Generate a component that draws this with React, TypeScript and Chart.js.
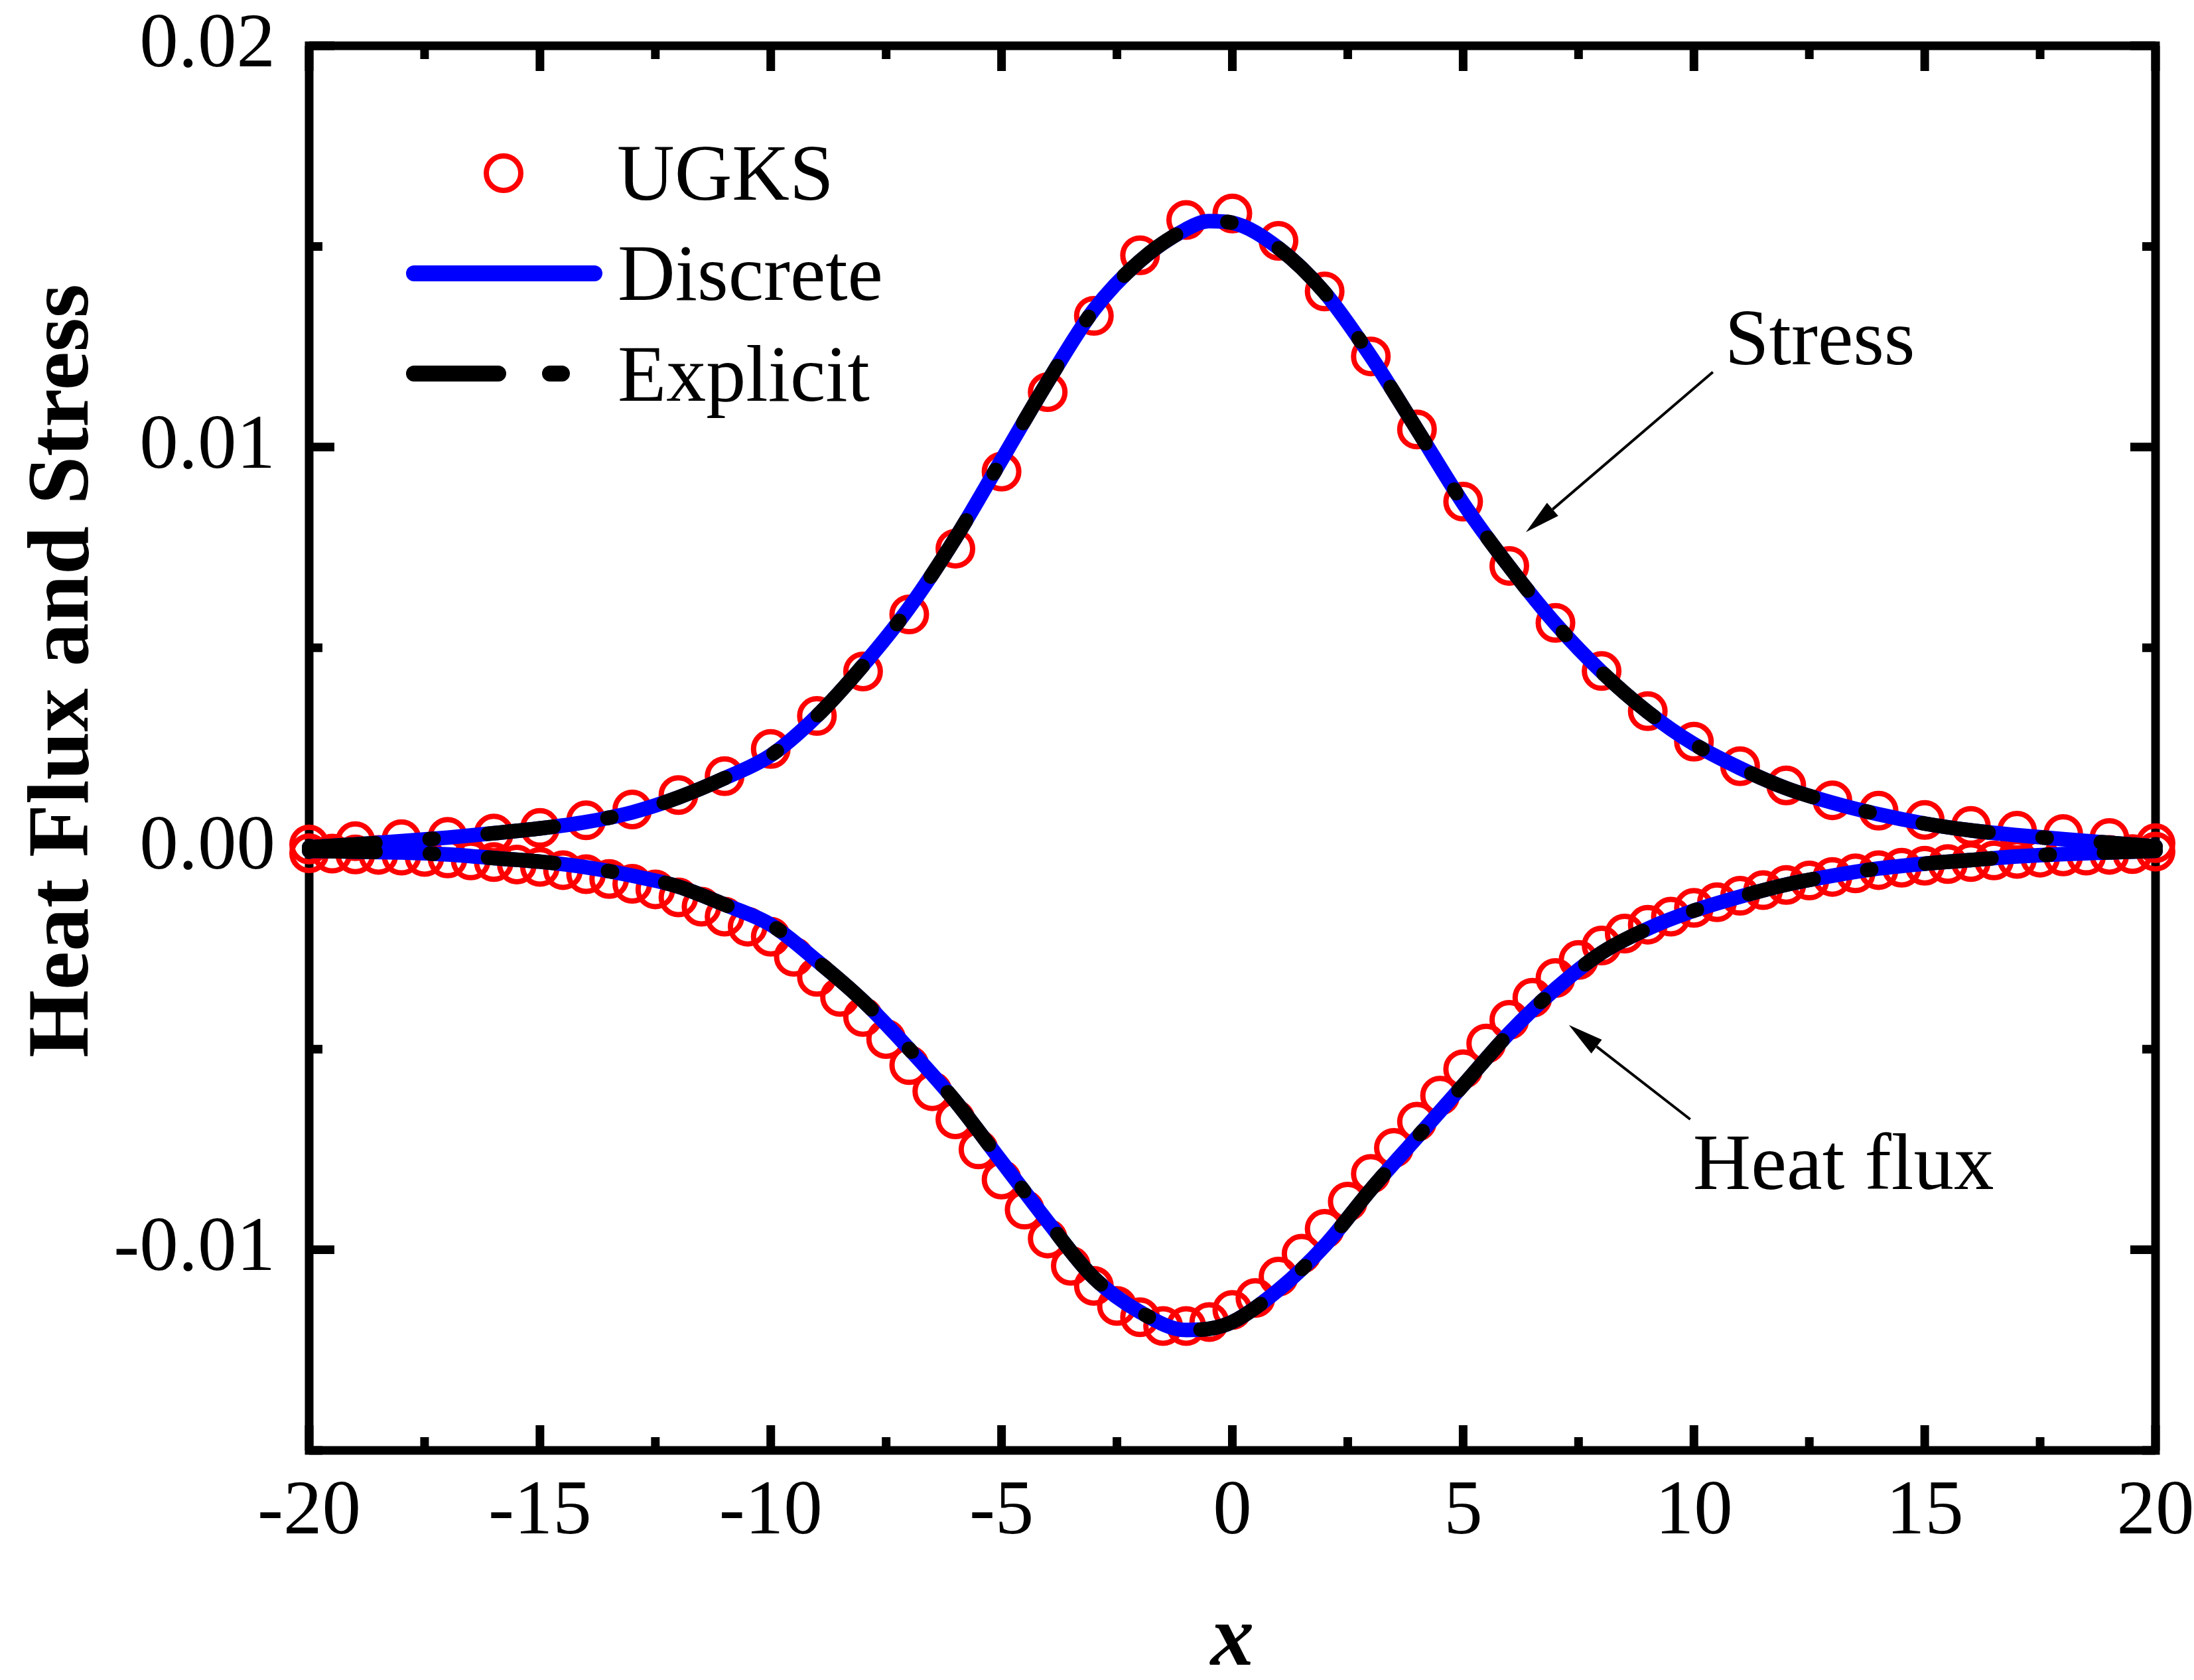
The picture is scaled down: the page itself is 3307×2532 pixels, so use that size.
import { useEffect, useRef } from "react";
import { Chart, registerables } from "chart.js";

Chart.register(...registerables);

const FONT = '"Liberation Serif", "Times New Roman", serif';

// UGKS stress samples (every 1)
const stressX = [
  -20, -19, -18, -17, -16, -15, -14, -13, -12, -11, -10, -9, -8, -7, -6, -5, -4, -3, -2, -1, 0,
  1, 2, 3, 4, 5, 6, 7, 8, 9, 10, 11, 12, 13, 14, 15, 16, 17, 18, 19, 20,
];
const stressUGKS = [
  0.0001, 0.00018, 0.00023, 0.00029, 0.00037, 0.00051, 0.0007, 0.00097, 0.00133, 0.0018, 0.00248,
  0.0033, 0.00441, 0.00583, 0.00747, 0.00939, 0.01137, 0.01327, 0.01478, 0.01566, 0.01582,
  0.01514, 0.01388, 0.01226, 0.01044, 0.00864, 0.00704, 0.00562, 0.00442, 0.00342, 0.00266,
  0.00205, 0.00157, 0.0012, 0.00094, 0.00071, 0.00056, 0.00044, 0.00036, 0.00026, 0.00013,
];

// UGKS heat flux samples (every 0.5)
const heatX = [
  -20, -19.5, -19, -18.5, -18, -17.5, -17, -16.5, -16, -15.5, -15, -14.5, -14, -13.5, -13, -12.5,
  -12, -11.5, -11, -10.5, -10, -9.5, -9, -8.5, -8, -7.5, -7, -6.5, -6, -5.5, -5, -4.5, -4, -3.5,
  -3, -2.5, -2, -1.5, -1, -0.5, 0, 0.5, 1, 1.5, 2, 2.5, 3, 3.5, 4, 4.5, 5, 5.5, 6, 6.5, 7, 7.5, 8,
  8.5, 9, 9.5, 10, 10.5, 11, 11.5, 12, 12.5, 13, 13.5, 14, 14.5, 15, 15.5, 16, 16.5, 17, 17.5, 18,
  18.5, 19, 19.5, 20,
];
const heatUGKS = [
  -0.00012, -0.00013, -0.00015, -0.00016, -0.00018, -0.00021, -0.00025, -0.0003, -0.00034, -0.0004,
  -0.00046, -0.00054, -0.00064, -0.00076, -0.00088, -0.00102, -0.00122, -0.00145, -0.0017, -0.00195,
  -0.0022, -0.0027, -0.0032, -0.0037, -0.0042, -0.00475, -0.0054, -0.00605, -0.00675, -0.0075,
  -0.00825, -0.009, -0.00972, -0.0104, -0.0109, -0.0114, -0.01168, -0.0119, -0.0119, -0.0118,
  -0.0115, -0.0112, -0.01067, -0.0101, -0.00948, -0.0088, -0.00811, -0.00746, -0.00681, -0.00616,
  -0.0055, -0.00486, -0.00427, -0.00372, -0.00323, -0.00278, -0.00242, -0.00212, -0.0019, -0.0017,
  -0.00148, -0.00134, -0.00118, -0.00104, -0.00091, -0.0008, -0.00071, -0.00062, -0.00054, -0.00048,
  -0.00043, -0.00039, -0.00034, -0.0003, -0.00026, -0.00023, -0.0002, -0.00018, -0.00016, -0.00014,
  -0.00008,
];

// continuous curves (Discrete and Explicit overlap in the picture)
const lineX = [
  -20, -19, -18, -17, -16, -15, -14, -13, -12, -11, -10, -9, -8, -7, -6, -5, -4, -3, -2, -1, -0.5,
  0, 1, 2, 3, 4, 5, 6, 7, 8, 9, 10, 11, 12, 13, 14, 15, 16, 17, 18, 19, 20,
];
const stressDiscrete = [
  0.00003, 0.0001, 0.00018, 0.00027, 0.00038, 0.0005, 0.00066, 0.0009, 0.00127, 0.00175, 0.00232,
  0.0033, 0.00456, 0.006, 0.00773, 0.00968, 0.01163, 0.01342, 0.01464, 0.01543, 0.01563, 0.01559,
  0.01496, 0.01385, 0.01226, 0.01044, 0.0086, 0.00702, 0.0056, 0.0044, 0.0034, 0.0026, 0.002,
  0.0015, 0.00114, 0.00085, 0.00062, 0.00045, 0.00033, 0.00023, 0.00014, 0.00005,
];
const heatDiscrete = [
  -0.00006, -0.00008, -0.0001, -0.00015, -0.00024, -0.00033, -0.00047, -0.00068, -0.00095, -0.0014,
  -0.0019, -0.0028, -0.0038, -0.005, -0.0063, -0.0078, -0.0093, -0.0107, -0.01155, -0.012, -0.01197,
  -0.0118, -0.011, -0.0099, -0.0085, -0.0072, -0.0059, -0.0046, -0.0035, -0.0026, -0.002, -0.00155,
  -0.0012, -0.0009, -0.00068, -0.0005, -0.00038, -0.00029, -0.0002, -0.00014, -0.0001, -0.00006,
];
const stressExplicit = stressDiscrete;
const heatExplicit = heatDiscrete;

const legendLabels = ["UGKS", "Discrete", "Explicit"];

const ink = "#000000";
const blue = "#0000ff";
const red = "#ff0000";
const explicitDash = [100, 82, 6, 82];

const pairs = (xs: number[], ys: number[]) => xs.map((x, i) => ({ x, y: ys[i] }));
const isMultiple = (v: number, step: number) => Math.abs(v / step - Math.round(v / step)) < 1e-6;

const curve = (data: any, color: string, dash: number[]) => ({
  data,
  borderColor: color,
  borderWidth: 22,
  borderDash: dash,
  borderCapStyle: "round",
  borderJoinStyle: "round",
  pointRadius: 0,
  cubicInterpolationMode: "monotone",
  fill: false,
  clip: false,
});

const markers = (data: any) => ({
  data,
  showLine: false,
  pointStyle: "circle",
  pointRadius: 26,
  pointBorderWidth: 8,
  pointBorderColor: red,
  pointBackgroundColor: "rgba(0,0,0,0)",
  clip: false,
});

// inward ticks on all four sides plus the box
const framePlugin = {
  id: "frame",
  beforeDatasetsDraw(chart: any) {
    const { ctx, chartArea: a, scales } = chart;
    ctx.save();
    ctx.strokeStyle = ink;
    ctx.lineWidth = 13;
    ctx.lineCap = "butt";
    ctx.beginPath();
    for (const t of scales.x.ticks) {
      const px = scales.x.getPixelForValue(t.value);
      const len = isMultiple(t.value, 5) ? 38 : 20;
      ctx.moveTo(px, a.bottom);
      ctx.lineTo(px, a.bottom - len);
      ctx.moveTo(px, a.top);
      ctx.lineTo(px, a.top + len);
    }
    for (const t of scales.y.ticks) {
      const py = scales.y.getPixelForValue(t.value);
      const len = isMultiple(t.value, 0.01) ? 38 : 20;
      ctx.moveTo(a.left, py);
      ctx.lineTo(a.left + len, py);
      ctx.moveTo(a.right, py);
      ctx.lineTo(a.right - len, py);
    }
    ctx.stroke();
    ctx.lineJoin = "miter";
    ctx.strokeRect(a.left, a.top, a.right - a.left, a.bottom - a.top);
    ctx.restore();
  },
};

const notes = [
  { text: "Stress", size: 120, at: [10.67, 0.01206], from: [10.41, 0.01187], to: [6.36, 0.00788] },
  { text: "Heat flux", size: 121, at: [9.98, -0.00849], from: [9.92, -0.00675], to: [7.29, -0.0044] },
];

const overlayPlugin = {
  id: "overlay",
  afterDraw(chart: any) {
    const { ctx, chartArea: a, scales } = chart;
    const sx = (v: number) => scales.x.getPixelForValue(v);
    const sy = (v: number) => scales.y.getPixelForValue(v);
    ctx.save();

    // legend
    const L = a.left;
    const T = a.top;
    ctx.lineCap = "round";
    ctx.strokeStyle = red;
    ctx.lineWidth = 8;
    ctx.beginPath();
    ctx.arc(L + 293, T + 192, 26, 0, Math.PI * 2);
    ctx.stroke();
    ctx.strokeStyle = blue;
    ctx.lineWidth = 24;
    ctx.beginPath();
    ctx.moveTo(L + 158, T + 343);
    ctx.lineTo(L + 430, T + 343);
    ctx.stroke();
    ctx.strokeStyle = ink;
    ctx.beginPath();
    ctx.moveTo(L + 158, T + 494);
    ctx.lineTo(L + 285, T + 494);
    ctx.moveTo(L + 363, T + 494);
    ctx.lineTo(L + 381, T + 494);
    ctx.stroke();
    ctx.fillStyle = ink;
    ctx.font = `120px ${FONT}`;
    ctx.textAlign = "left";
    ctx.textBaseline = "alphabetic";
    ctx.fillText(legendLabels[0], L + 464, T + 232);
    ctx.fillText(legendLabels[1], L + 465, T + 383);
    ctx.fillText(legendLabels[2], L + 465, T + 535);

    // annotations with arrows
    for (const n of notes) {
      ctx.font = `${n.size}px ${FONT}`;
      ctx.fillText(n.text, sx(n.at[0]), sy(n.at[1]));
      const x1 = sx(n.from[0]);
      const y1 = sy(n.from[1]);
      const x2 = sx(n.to[0]);
      const y2 = sy(n.to[1]);
      const ang = Math.atan2(y2 - y1, x2 - x1);
      const head = 53;
      const half = 13;
      const bx = x2 - head * Math.cos(ang);
      const by = y2 - head * Math.sin(ang);
      ctx.lineWidth = 4;
      ctx.lineCap = "butt";
      ctx.beginPath();
      ctx.moveTo(x1, y1);
      ctx.lineTo(bx, by);
      ctx.stroke();
      ctx.beginPath();
      ctx.moveTo(x2, y2);
      ctx.lineTo(bx + half * Math.sin(ang), by - half * Math.cos(ang));
      ctx.lineTo(bx - half * Math.sin(ang), by + half * Math.cos(ang));
      ctx.closePath();
      ctx.fill();
    }

    // axis titles
    ctx.font = `bold 131px ${FONT}`;
    ctx.textAlign = "center";
    ctx.save();
    ctx.translate(132, 1011);
    ctx.rotate(-Math.PI / 2);
    ctx.fillText("Heat Flux and Stress", 0, 0);
    ctx.restore();
    ctx.font = `italic bold 131px ${FONT}`;
    ctx.fillText("x", (a.left + a.right) / 2, 2509);

    ctx.restore();
  },
};

export default function App() {
  const canvasRef = useRef<HTMLCanvasElement | null>(null);

  useEffect(() => {
    const canvas = canvasRef.current;
    if (!canvas) return;

    const tickFont = { family: FONT, size: 117, lineHeight: 1 };

    const chart = new Chart(canvas, {
      type: "line",
      data: {
        datasets: [
          curve(pairs(lineX, stressExplicit), ink, explicitDash),
          curve(pairs(lineX, heatExplicit), ink, explicitDash),
          curve(pairs(lineX, stressDiscrete), blue, []),
          curve(pairs(lineX, heatDiscrete), blue, []),
          markers(pairs(stressX, stressUGKS)),
          markers(pairs(heatX, heatUGKS)),
        ] as any,
      },
      options: {
        animation: false,
        responsive: true,
        maintainAspectRatio: false,
        devicePixelRatio: 1,
        layout: { padding: { top: 69, right: 58, bottom: 0, left: 0 } },
        plugins: { legend: { display: false }, tooltip: { enabled: false } },
        scales: {
          x: {
            type: "linear",
            min: -20,
            max: 20,
            grid: { display: false, drawTicks: false },
            border: { display: false },
            ticks: {
              stepSize: 2.5,
              autoSkip: false,
              maxRotation: 0,
              padding: 36,
              color: ink,
              font: tickFont,
              callback: (v: any) => (isMultiple(Number(v), 5) ? String(Number(v)) : ""),
            },
            afterFit: (s: any) => {
              s.height = 346;
              s.paddingLeft = 0;
              s.paddingRight = 0;
            },
          },
          y: {
            type: "linear",
            min: -0.015,
            max: 0.02,
            grid: { display: false, drawTicks: false },
            border: { display: false },
            ticks: {
              stepSize: 0.005,
              autoSkip: false,
              padding: 51,
              color: ink,
              font: tickFont,
              callback: (v: any) => (isMultiple(Number(v), 0.01) ? Number(v).toFixed(2) : ""),
            },
            afterFit: (s: any) => {
              s.width = 466;
              s.paddingTop = 0;
              s.paddingBottom = 0;
            },
          },
        },
      } as any,
      plugins: [framePlugin, overlayPlugin],
    });

    return () => chart.destroy();
  }, []);

  return (
    <div style={{ position: "fixed", left: 0, top: 0, width: 3307, height: 2532, background: "#ffffff" }}>
      <canvas ref={canvasRef} />
    </div>
  );
}
